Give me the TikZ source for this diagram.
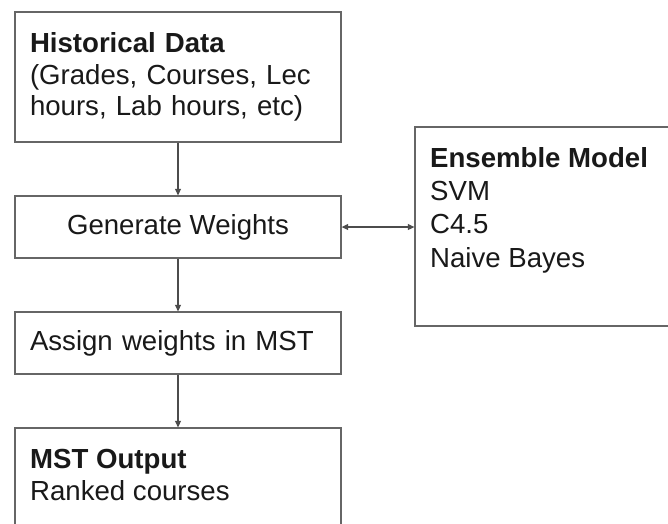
\documentclass[tikz,border=0pt]{standalone}
\usepackage{fontspec}
\setmainfont{Liberation Sans}
\usetikzlibrary{arrows.meta, positioning}

\begin{document}
\begin{tikzpicture}[
    x=1pt, y=-1pt,
    box/.style={rectangle, draw=black!60, line width=1.3pt, inner sep=0pt},
    txt/.style={text=black!90, font=\fontsize{27.6}{31.6}\selectfont},
    link/.style={-{Triangle[length=6.5pt,width=6pt]}, draw=black!70, line width=1.2pt}
    ]
    \clip (0,0) rectangle (668,523);
    \fill[white] (0,0) rectangle (668,523);

    % Historical data
    \node[box, txt, minimum width=326pt, minimum height=130pt, text width=296pt, align=left] (hist) at (178,77) {\textbf{Historical Data}\\(Grades, Courses, Lec\\hours, Lab hours, etc)};

    % Generate weights
    \node[box, txt, minimum width=326pt, minimum height=62pt] (gen) at (178,227) {Generate Weights};
    \draw[link] (hist) -- (gen);

    % Assign weights
    \node[box, txt, minimum width=326pt, minimum height=62pt, text width=296pt, align=left] (assign) at (178,343) {Assign weights in MST};
    \draw[link] (gen) -- (assign);

    % MST output
    \node[box, minimum width=326pt, minimum height=132pt] (out) at (178,494) {};
    \node[txt, anchor=base west, align=left, inner sep=0pt] (out-text) at (30,500) {\textbf{MST Output}\\Ranked courses};
    \draw[link] (assign) -- (out);

    % Ensemble model
    \node[box, minimum width=285pt, minimum height=199pt] (ens) at (557.5,226.5) {};
    \node[txt, anchor=base west, align=left, inner sep=0pt, font=\fontsize{27.6}{33.3}\selectfont] (ens-text) at (430,267) {\textbf{Ensemble Model}\\SVM\\C4.5\\Naive Bayes};
    \draw[link, {Triangle[length=6.5pt,width=6pt]}-{Triangle[length=6.5pt,width=6pt]}] (gen.east) -- (gen.east -| ens.west);

\end{tikzpicture}
\end{document}
